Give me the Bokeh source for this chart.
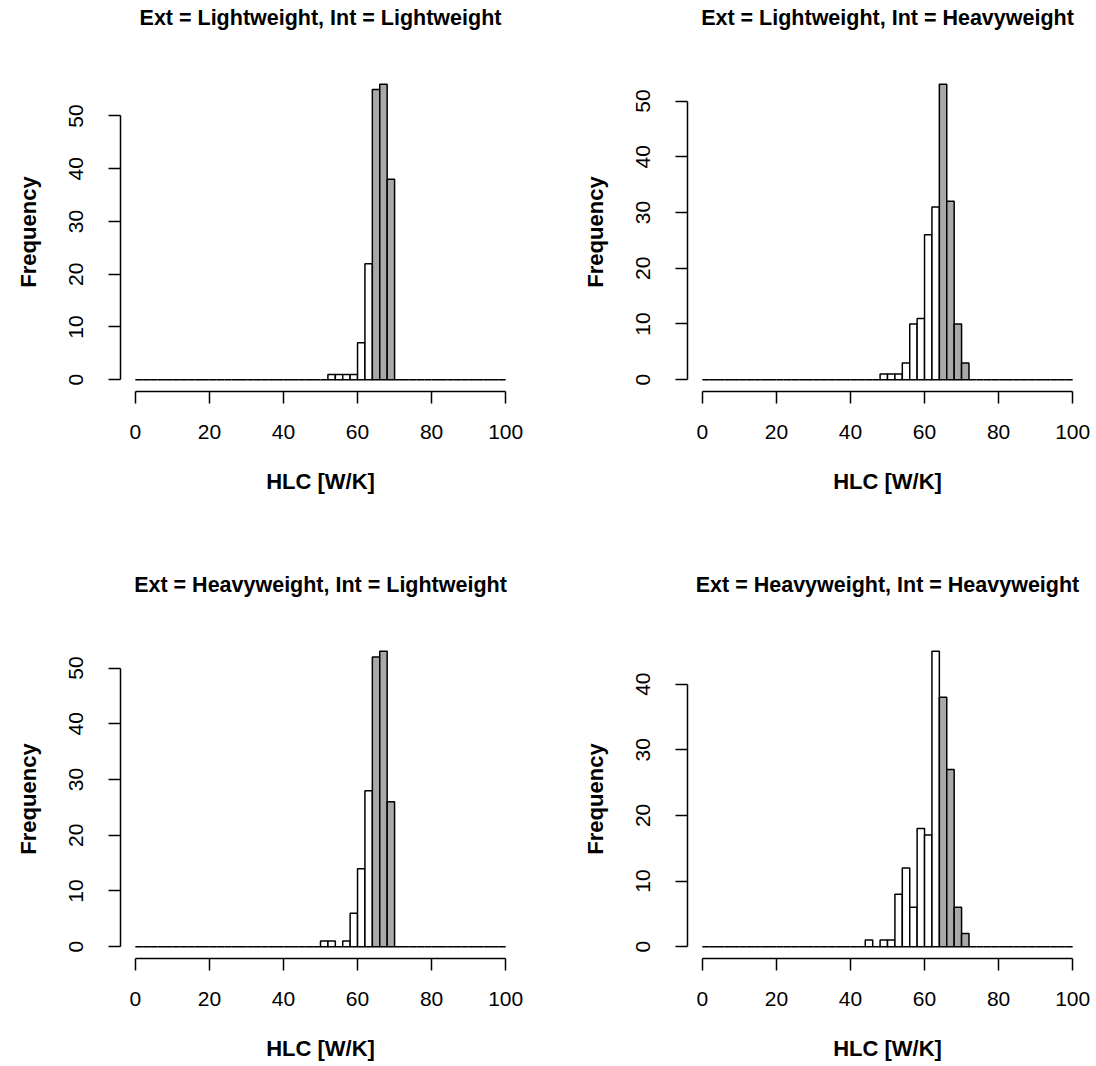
from bokeh.plotting import figure
from bokeh.layouts import column, row
from bokeh.models import Range1d, FixedTicker, ColumnDataSource
from bokeh.core.properties import value
from bokeh.embed import file_html
from bokeh.resources import INLINE

# ---- data ----
bin_width = 2
bin_min = 0
bin_max = 100
highlight_from = 64  # bins at/above this HLC are shaded

titles = [
    "Ext = Lightweight, Int = Lightweight",
    "Ext = Lightweight, Int = Heavyweight",
    "Ext = Heavyweight, Int = Lightweight",
    "Ext = Heavyweight, Int = Heavyweight",
]
# first non-empty bin's left edge, and counts from there on
start_LL = 52
counts_LL = [1, 1, 1, 1, 7, 22, 55, 56, 38]
start_LH = 48
counts_LH = [1, 1, 1, 3, 10, 11, 26, 31, 53, 32, 10, 3]
start_HL = 50
counts_HL = [1, 1, 0, 1, 6, 14, 28, 52, 53, 26]
start_HH = 44
counts_HH = [1, 0, 1, 1, 8, 12, 6, 18, 17, 45, 38, 27, 6, 2]

x_ticks = [0, 20, 40, 60, 80, 100]
y_ticks_list = [
    [0, 10, 20, 30, 40, 50],
    [0, 10, 20, 30, 40, 50],
    [0, 10, 20, 30, 40, 50],
    [0, 10, 20, 30, 40],
]
x_label = "HLC [W/K]"
y_label = "Frequency"

FONT = "Liberation Sans"
GRAY = "#a9a9a9"
FRAME_W, FRAME_H = 400, 319
TOP_H = 72


def full_hist(start, counts):
    lefts = list(range(bin_min, bin_max, bin_width))
    tops = []
    for l in lefts:
        i = (l - start) // bin_width
        tops.append(counts[i] if 0 <= i < len(counts) and l >= start else 0)
    return lefts, tops


def x_range_obj():
    xr = bin_max - bin_min
    return Range1d(bin_min - 0.04 * xr, bin_max + 0.04 * xr)


def make_title(title, right_border):
    t = figure(frame_width=FRAME_W, frame_height=TOP_H,
               x_range=x_range_obj(), y_range=Range1d(0, TOP_H),
               x_axis_type=None, y_axis_type=None,
               output_backend="svg", toolbar_location=None,
               min_border_left=120, min_border_right=right_border,
               min_border_top=0, min_border_bottom=0)
    t.outline_line_color = None
    t.grid.visible = False
    t.text(x=[(bin_min + bin_max) / 2], y=[TOP_H - 17], text=[title],
           text_align="center", text_baseline="middle",
           text_font=value(FONT), text_font_style="bold",
           text_font_size="21.5px", text_color="black")
    return t


def make_panel(title, start, counts, yticks, right_border, bottom_border):
    lefts, tops = full_hist(start, counts)
    rights = [l + bin_width for l in lefts]
    fills = [GRAY if l >= highlight_from else "white" for l in lefts]
    src = ColumnDataSource(dict(left=lefts, right=rights, top=tops,
                                bottom=[0] * len(lefts), fill=fills))
    ymax = max(tops)
    p = figure(frame_width=FRAME_W, frame_height=FRAME_H,
               x_range=x_range_obj(),
               y_range=Range1d(-0.04 * ymax, ymax * 1.04),
               output_backend="svg", toolbar_location=None,
               min_border_left=120, min_border_right=right_border,
               min_border_top=0, min_border_bottom=bottom_border)
    p.quad(left="left", right="right", top="top", bottom="bottom",
           fill_color="fill", line_color="black", line_width=1.5, source=src)
    p.outline_line_color = None
    p.grid.visible = False
    p.background_fill_color = "white"
    p.border_fill_color = "white"

    for ax in (p.xaxis[0], p.yaxis[0]):
        ax.axis_line_width = 1.5
        ax.major_tick_line_width = 1.5
        ax.major_tick_out = 12
        ax.major_tick_in = 0
        ax.minor_tick_line_color = None
        ax.major_label_text_font = FONT
        ax.major_label_text_font_size = "21px"
        ax.major_label_text_color = "black"
        ax.axis_label_text_font = FONT
        ax.axis_label_text_font_style = "bold"
        ax.axis_label_text_font_size = "22px"
        ax.axis_label_text_color = "black"

    xa = p.xaxis[0]
    xa.ticker = FixedTicker(ticks=x_ticks)
    xa.bounds = (bin_min, bin_max)
    xa.axis_label = x_label
    xa.major_label_standoff = 21
    xa.axis_label_standoff = 27

    ya = p.yaxis[0]
    ya.ticker = FixedTicker(ticks=yticks)
    ya.bounds = (yticks[0], yticks[-1])
    ya.axis_label = y_label
    ya.major_label_orientation = "vertical"
    ya.major_label_standoff = 25
    ya.axis_label_standoff = 26
    return column(make_title(title, right_border), p, spacing=0)


c1 = make_panel(titles[0], start_LL, counts_LL, y_ticks_list[0], 47, 176)
c2 = make_panel(titles[1], start_LH, counts_LH, y_ticks_list[1], 9, 176)
c3 = make_panel(titles[2], start_HL, counts_HL, y_ticks_list[2], 47, 108)
c4 = make_panel(titles[3], start_HH, counts_HH, y_ticks_list[3], 9, 108)

layout = column(row(c1, c2, spacing=0), row(c3, c4, spacing=0), spacing=0)
open("out.html", "w").write(file_html(layout, INLINE))
